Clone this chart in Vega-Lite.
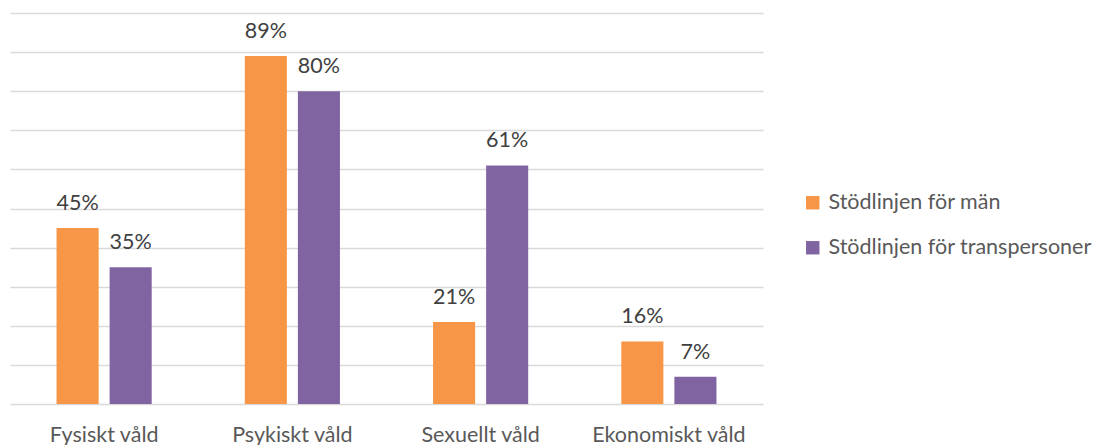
{
  "$schema": "https://vega.github.io/schema/vega-lite/v6.json",
  "width": 753,
  "height": 391,
  "padding": {"left": 10, "top": 13, "right": 0, "bottom": 0},
  "autosize": {"type": "pad"},
  "config": {"view": {"stroke": null}, "font": "Lato"},
  "data": {
    "values": [
      {"kategori": "Fysiskt våld", "serie": "Stödlinjen för män", "andel": 0.45},
      {"kategori": "Fysiskt våld", "serie": "Stödlinjen för transpersoner", "andel": 0.35},
      {"kategori": "Psykiskt våld", "serie": "Stödlinjen för män", "andel": 0.89},
      {"kategori": "Psykiskt våld", "serie": "Stödlinjen för transpersoner", "andel": 0.80},
      {"kategori": "Sexuellt våld", "serie": "Stödlinjen för män", "andel": 0.21},
      {"kategori": "Sexuellt våld", "serie": "Stödlinjen för transpersoner", "andel": 0.61},
      {"kategori": "Ekonomiskt våld", "serie": "Stödlinjen för män", "andel": 0.16},
      {"kategori": "Ekonomiskt våld", "serie": "Stödlinjen för transpersoner", "andel": 0.07}
    ]
  },
  "encoding": {
    "x": {
      "field": "kategori", "type": "nominal",
      "sort": ["Fysiskt våld", "Psykiskt våld", "Sexuellt våld", "Ekonomiskt våld"],
      "scale": {"paddingInner": 0, "paddingOuter": 0},
      "axis": {"title": null, "labelAngle": 0, "domain": false, "ticks": false, "labelPadding": 20, "labelFontSize": 21.5, "labelColor": "#595959", "labelFont": "Lato", "labelLimit": 300}
    },
    "xOffset": {
      "field": "serie", "type": "nominal",
      "sort": ["Stödlinjen för män", "Stödlinjen för transpersoner"],
      "scale": {"paddingInner": 0.2075, "paddingOuter": 0.877}
    },
    "y": {
      "field": "andel", "type": "quantitative",
      "scale": {"domain": [0, 1], "nice": false},
      "axis": {"title": null, "labels": false, "ticks": false, "domain": false, "values": [0, 0.1, 0.2, 0.3, 0.4, 0.5, 0.6, 0.7, 0.8, 0.9, 1.0], "gridColor": "#D9D9D9", "gridWidth": 1.5}
    }
  },
  "layer": [
    {
      "mark": {"type": "bar"},
      "encoding": {
        "color": {
          "field": "serie", "type": "nominal",
          "sort": ["Stödlinjen för män", "Stödlinjen för transpersoner"],
          "scale": {"domain": ["Stödlinjen för män", "Stödlinjen för transpersoner"], "range": ["#F79646", "#8064A2"]},
          "legend": {
            "title": null, "orient": "none", "legendX": 792, "legendY": 179,
            "symbolType": "square", "symbolSize": 180, "symbolStrokeWidth": 0,
            "labelFontSize": 21.5, "labelColor": "#595959", "labelFont": "Lato", "labelOffset": 5, "rowPadding": 22, "labelLimit": 400
          }
        }
      }
    },
    {
      "mark": {"type": "text", "dy": -18, "baseline": "alphabetic", "fontSize": 21.5, "color": "#404040", "font": "Lato"},
      "encoding": {"text": {"field": "andel", "type": "quantitative", "format": ".0%"}}
    }
  ]
}
